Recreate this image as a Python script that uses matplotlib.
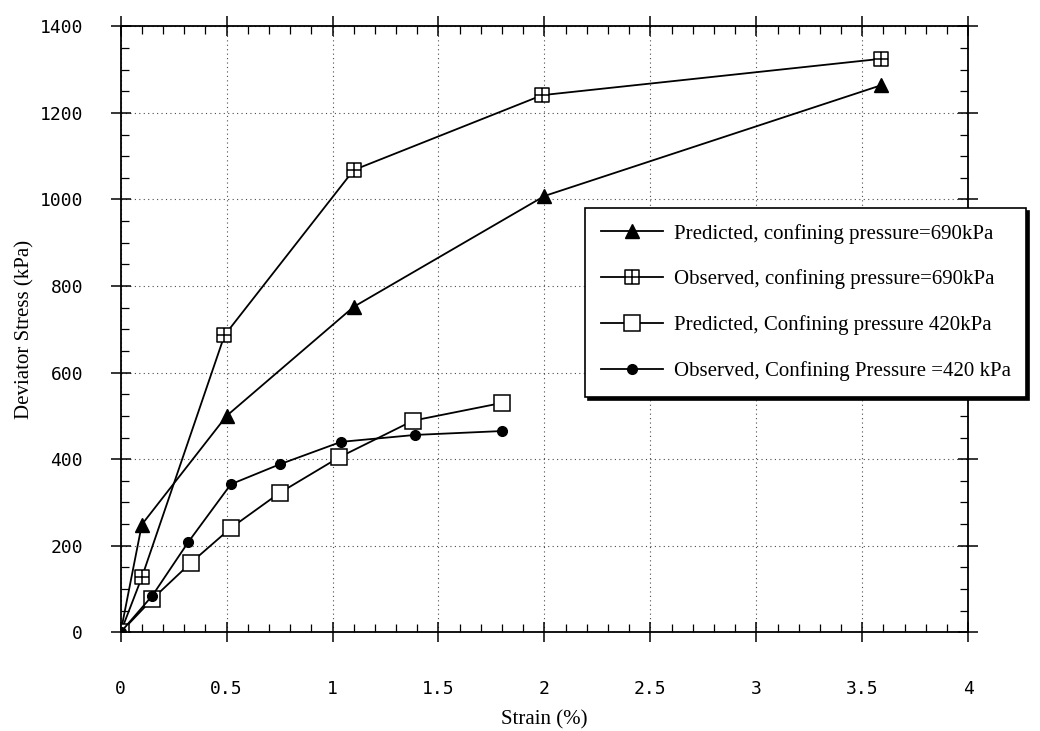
import matplotlib
matplotlib.use("Agg")
import matplotlib.pyplot as plt
from matplotlib.path import Path
from matplotlib.ticker import MultipleLocator

# 讀圖估計的數值
pred690_x = [0, 0.10, 0.50, 1.10, 2.00, 3.59]
pred690_y = [0, 249, 500, 752, 1008, 1264]

obs690_x = [0, 0.10, 0.49, 1.10, 1.99, 3.59]
obs690_y = [0, 127, 686, 1068, 1241, 1325]

pred420_x = [0, 0.15, 0.33, 0.52, 0.75, 1.03, 1.38, 1.80]
pred420_y = [0, 77, 160, 241, 322, 404, 489, 530]

obs420_x = [0, 0.15, 0.32, 0.52, 0.75, 1.04, 1.39, 1.80]
obs420_y = [0, 85, 209, 342, 388, 440, 456, 465]

x_ticks = [0, 0.5, 1, 1.5, 2, 2.5, 3, 3.5, 4]
x_ticklabels = ["0", "0.5", "1", "1.5", "2", "2.5", "3", "3.5", "4"]
y_ticks = [0, 200, 400, 600, 800, 1000, 1200, 1400]

labels = [
    "Predicted, confining pressure=690kPa",
    "Observed, confining pressure=690kPa",
    "Predicted, Confining pressure 420kPa",
    "Observed, Confining Pressure =420 kPa",
]

# 方框加十字的標記
_v = [(-1, -1), (1, -1), (1, 1), (-1, 1), (-1, -1),
      (-1, 0), (1, 0), (0, -1), (0, 1)]
_c = [Path.MOVETO, Path.LINETO, Path.LINETO, Path.LINETO, Path.CLOSEPOLY,
      Path.MOVETO, Path.LINETO, Path.MOVETO, Path.LINETO]
boxcross = Path(_v, _c)

SERIF = "Liberation Serif"
MONO = "DejaVu Sans Mono"

fig = plt.figure(figsize=(10.4, 7.31), dpi=100)
ax = fig.add_axes([0.116, 0.135, 0.815, 0.829])

lw = 1.3
ax.plot(pred690_x, pred690_y, color="black", lw=lw, marker="^", ms=10,
        mfc="black", label=labels[0])
ax.plot(obs690_x, obs690_y, color="black", lw=lw, marker=boxcross, ms=10,
        mfc="white", mew=1.1, label=labels[1])
ax.plot(pred420_x, pred420_y, color="black", lw=lw, marker="s", ms=11,
        mfc="white", mew=1.1, label=labels[2])
ax.plot(obs420_x, obs420_y, color="black", lw=lw, marker="o", ms=7,
        mfc="black", label=labels[3])

ax.set_xlim(0, 4)
ax.set_ylim(0, 1400)
ax.xaxis.set_minor_locator(MultipleLocator(0.1))
ax.yaxis.set_minor_locator(MultipleLocator(50))

ax.grid(True, which="major", linestyle=(0, (1, 3)), color="black", lw=0.8, alpha=0.7)
ax.tick_params(which="major", direction="inout", length=14, width=1.1,
               top=True, right=True)
ax.tick_params(which="minor", direction="in", length=6, width=0.9,
               top=True, right=True)
ax.tick_params(axis="x", which="major", pad=27)
ax.tick_params(axis="y", which="major", pad=20)
for sp in ax.spines.values():
    sp.set_linewidth(1.3)

ax.set_xticks(x_ticks)
ax.set_xticklabels(x_ticklabels, fontfamily=MONO, fontsize=13)
ax.set_yticks(y_ticks)
ax.set_yticklabels([str(v) for v in y_ticks], fontfamily=MONO, fontsize=13)

ax.set_xlabel("Strain (%)", fontfamily=SERIF, fontsize=15, labelpad=9)
ax.set_ylabel("Deviator Stress (kPa)", fontfamily=SERIF, fontsize=15, labelpad=4)

leg = ax.legend(loc="upper left", bbox_to_anchor=(585 / 1040, 1 - 208 / 731),
                bbox_transform=fig.transFigure, borderaxespad=0,
                prop={"family": SERIF, "size": 15},
                frameon=True, fancybox=False,
                shadow={"color": "black", "alpha": 1}, edgecolor="black",
                handlelength=3.0, labelspacing=1.25, borderpad=0.75,
                handletextpad=0.5)
leg.get_frame().set_linewidth(1.2)

fig.savefig("out.png", dpi=100)
